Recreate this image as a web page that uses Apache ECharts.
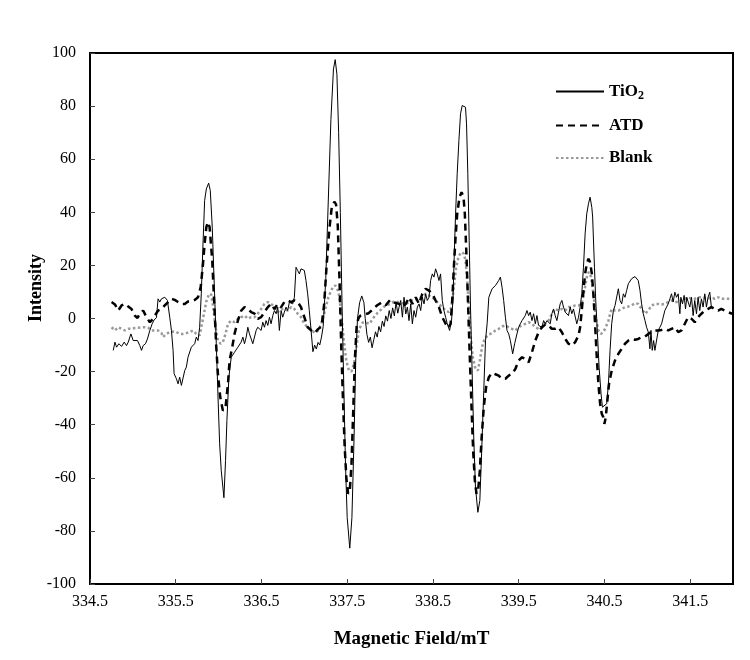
<!DOCTYPE html>
<html>
<head>
<meta charset="utf-8">
<script src="https://cdn.jsdelivr.net/npm/echarts@6/dist/echarts.min.js"></script>
<style>
  html, body { margin: 0; padding: 0; background: #fff; }
  #chart { width: 750px; height: 660px; }
</style>
</head>
<body>
<div id="chart"></div>
<script>
// EPR spectra: magnetic field (mT) and signal intensity for each sample
const tio2Field = [334.771,334.791,334.810,334.837,334.868,334.899,334.926,334.946,334.977,335.004,335.023,335.054,335.081,335.101,335.120,335.147,335.170,335.198,335.225,335.248,335.275,335.294,335.314,335.333,335.372,335.403,335.430,335.450,335.469,335.481,335.508,335.527,335.546,335.566,335.585,335.605,335.624,335.643,335.663,335.682,335.701,335.721,335.740,335.760,335.779,335.798,335.818,335.837,335.857,335.884,335.903,335.926,335.953,335.973,335.992,336.012,336.031,336.062,336.081,336.097,336.120,336.147,336.186,336.225,336.263,336.283,336.302,336.322,336.341,336.360,336.380,336.399,336.419,336.438,336.457,336.477,336.496,336.515,336.535,336.554,336.574,336.593,336.612,336.632,336.651,336.671,336.690,336.709,336.729,336.748,336.767,336.787,336.806,336.826,336.845,336.864,336.884,336.903,336.922,336.942,336.961,336.981,337.000,337.019,337.039,337.058,337.08,337.10,337.12,337.14,337.16,337.18,337.20,337.22,337.25,337.28,337.31,337.34,337.36,337.38,337.40,337.42,337.44,337.46,337.48,337.50,337.53,337.555,337.58,337.60,337.62,337.645,337.67,337.695,337.71,337.73,337.75,337.77,337.79,337.81,337.83,337.85,337.87,337.89,337.91,337.93,337.95,337.97,337.99,338.01,338.03,338.05,338.07,338.09,338.105,338.124,338.144,338.163,338.183,338.202,338.221,338.241,338.260,338.279,338.299,338.318,338.338,338.357,338.376,338.396,338.415,338.434,338.454,338.473,338.493,338.512,338.531,338.551,338.570,338.589,338.609,338.628,338.648,338.667,338.694,338.717,338.733,338.748,338.764,338.783,338.803,338.822,338.841,338.861,338.880,338.892,338.907,338.923,338.938,338.958,338.977,338.996,339.024,339.047,339.066,339.093,339.113,339.132,339.152,339.190,339.229,339.267,339.287,339.306,339.325,339.345,339.364,339.384,339.403,339.430,339.453,339.480,339.500,339.519,339.539,339.558,339.577,339.597,339.616,339.635,339.655,339.674,339.694,339.713,339.732,339.752,339.771,339.791,339.810,339.829,339.849,339.868,339.887,339.907,339.926,339.946,339.965,339.984,340.004,340.023,340.043,340.062,340.081,340.101,340.120,340.139,340.159,340.178,340.198,340.217,340.236,340.256,340.275,340.294,340.314,340.333,340.353,340.363,340.384,340.399,340.419,340.438,340.461,340.477,340.500,340.527,340.547,340.566,340.585,340.605,340.624,340.643,340.663,340.682,340.702,340.721,340.740,340.760,340.779,340.798,340.818,340.837,340.857,340.876,340.895,340.915,340.934,340.953,340.973,340.992,341.012,341.031,341.043,341.058,341.074,341.089,341.109,341.128,341.147,341.167,341.186,341.205,341.225,341.244,341.264,341.283,341.302,341.322,341.341,341.361,341.380,341.392,341.411,341.430,341.446,341.461,341.477,341.496,341.516,341.535,341.554,341.574,341.593,341.612,341.632,341.651,341.671,341.690,341.709,341.729,341.748];
const tio2Int = [-12.0,-8.9,-10.8,-9.5,-10.5,-8.9,-10.2,-8.9,-5.8,-8.3,-7.7,-8.3,-10.2,-12.0,-10.2,-9.5,-7.7,-4.5,-2.0,-0.5,0.3,7.4,6.2,7.4,8.0,6.8,0.5,-4.5,-12.0,-20.8,-22.7,-24.6,-22.1,-25.2,-25.9,-19.6,-18.3,-14.6,-14.6,-10.8,-10.2,-9.5,-7.0,-8.3,-3.3,9.3,28.1,44.4,48.8,51.0,48.2,34.4,9.3,-9.5,-28.4,-47.2,-57.3,-67.5,-53.5,-38.4,-22.1,-14.6,-12.7,-10.8,-8.9,-7.0,-9.5,-7.0,-3.3,-5.8,-5.2,-9.5,-8.9,-4.5,-3.3,-2.6,-4.5,-1.4,-3.3,-0.8,-2.6,0.5,-2.0,1.1,3.0,1.8,4.3,-4.5,3.0,0.5,2.4,4.3,3.0,6.2,6.8,5.5,8.0,19.3,18.1,16.8,18.7,19.3,18.1,14.3,9.3,3.0,-5,-12.5,-10,-11.5,-9,-10,-7,-3,15,45,75,94,97.5,92,70,40,5,-25,-55,-75,-86.5,-75,-45,-15,0,6,8.5,6,0,-6,-9,-7,-11,-8,-5,-7,-3,-5,-1,-3,1,-1,3,0,4,1,6,2,4.3,6.8,0.5,8.0,1.7,4.3,-0.8,5.5,-2.0,3.0,0.5,4.3,5.5,3.0,8.0,5.5,9.3,6.8,8.0,14.3,16.8,15.6,18.7,16.8,14.3,16.8,6.8,3.0,0.5,-2.0,-4.5,-0.8,6.8,23.1,39.4,54.5,67.1,77.1,80.2,80.9,79.6,73.3,54.5,29.4,4.3,-20.8,-45.9,-63.5,-73.0,-68.6,-52.2,-27.1,-8.3,-2.0,8.0,11.2,12.4,14.3,15.6,11.8,6.8,0.5,-4.5,-5.8,-8.3,-13.3,-9.5,-5.8,-3.3,-2.0,-0.8,-0.8,1.1,3.0,1.1,2.4,-0.8,1.8,-2.0,1.1,-2.6,-2.0,-3.3,-0.8,-2.0,-0.8,-0.1,-2.0,1.8,3.6,1.1,-0.8,2.4,5.5,6.8,4.3,2.4,3.0,1.1,4.3,1.8,3.6,3.0,-2.0,0.5,4.3,9.3,19.3,31.9,39.4,43.2,45.7,41.9,38.2,19.3,6.8,-5.8,-18.3,-28.4,-33.4,-34.0,-32.1,-24.6,-12.0,-2.0,3.0,4.9,5.5,11.2,6.8,5.5,9.3,8.0,10.6,13.1,13.7,15.0,14.3,15.8,15.6,14.3,10.6,5.5,1.8,-0.7,-3.3,-5.1,-11.4,-4.5,-12.0,-8.3,-12.0,-12.7,-4.5,-3.3,-2.0,0.5,3.0,4.3,5.5,7.4,9.3,6.2,9.9,8.0,9.3,1.8,8.0,5.5,8.7,3.6,8.0,6.2,4.3,8.0,1.1,6.8,1.8,8.0,3.0,7.4,4.3,9.3,4.3,8.0,9.9,4.3];

const atdField = [334.752,334.791,334.829,334.868,334.907,334.946,334.984,335.023,335.054,335.081,335.120,335.159,335.198,335.236,335.256,335.294,335.333,335.372,335.411,335.450,335.488,335.527,335.566,335.605,335.643,335.682,335.721,335.760,335.791,335.818,335.837,335.857,335.876,335.895,335.926,335.953,335.973,335.992,336.019,336.050,336.081,336.109,336.128,336.159,336.186,336.225,336.264,336.302,336.341,336.380,336.419,336.457,336.496,336.535,336.574,336.612,336.651,336.690,336.729,336.767,336.806,336.845,336.884,336.922,336.961,337.000,337.039,337.08,337.12,337.16,337.20,337.23,337.26,337.29,337.32,337.35,337.37,337.39,337.41,337.43,337.45,337.47,337.49,337.51,337.53,337.55,337.57,337.59,337.61,337.63,337.65,337.70,337.75,337.80,337.85,337.90,337.95,338.00,338.05,338.105,338.144,338.183,338.221,338.260,338.299,338.338,338.376,338.415,338.454,338.493,338.531,338.570,338.609,338.648,338.679,338.706,338.725,338.744,338.764,338.783,338.810,338.834,338.857,338.872,338.892,338.911,338.930,338.950,338.969,338.989,339.008,339.027,339.047,339.066,339.093,339.120,339.152,339.190,339.229,339.267,339.306,339.345,339.384,339.422,339.461,339.500,339.539,339.577,339.616,339.655,339.694,339.732,339.771,339.810,339.849,339.887,339.926,339.965,340.004,340.043,340.081,340.120,340.159,340.198,340.217,340.236,340.256,340.275,340.294,340.314,340.333,340.353,340.372,340.391,340.411,340.430,340.450,340.469,340.488,340.500,340.516,340.531,340.554,340.585,340.624,340.663,340.702,340.740,340.779,340.818,340.857,340.895,340.934,340.973,341.012,341.050,341.089,341.128,341.167,341.205,341.244,341.283,341.322,341.361,341.399,341.438,341.477,341.516,341.554,341.593,341.632,341.671,341.709,341.748,341.787,341.826,341.864,341.903,341.942,341.990];
const atdInt = [6.2,5.3,3.0,4.9,5.5,4.5,3.6,1.1,0.2,1.8,3.0,0.5,-1.4,-0.1,1.1,3.0,3.6,4.9,6.2,7.4,7.0,6.2,5.5,5.5,6.4,6.5,7.0,8.0,11.8,20.6,28.1,34.4,36.3,34.4,21.8,3.0,-10.8,-20.8,-29.6,-34.7,-33.4,-24.6,-15.8,-10.8,-5.8,-0.8,3.0,4.3,3.6,2.4,1.8,-0.1,0.5,2.4,4.3,5.5,3.6,5.5,4.3,6.2,6.8,6.2,6.8,6.2,4.3,0.5,-3.3,-4.5,-5.5,-4,-3,5,20,33,42,44,43,35,15,-10,-30,-48,-60,-66,-65,-55,-35,-15,-3,0,1,1.5,2,3.5,5,6,5,7,6,5.5,4.3,5.5,8.0,5.5,8.0,5.5,9.3,11.2,10.5,9.3,6.8,4.3,0.5,-2.0,-3.5,-2.0,6.8,19.3,30.6,39.4,45.7,47.6,45.7,39.4,23.1,4.3,-14.6,-33.4,-49.7,-61.0,-66.0,-64.8,-57.3,-45.9,-33.4,-25.9,-22.1,-20.5,-21,-21.5,-22.7,-22.7,-21.5,-20.8,-19.0,-15.8,-14.6,-15.2,-16.5,-12.7,-8.3,-5.2,-3.3,-2.3,-2.6,-3.9,-3.9,-3.3,-5.2,-7.7,-9.5,-10.2,-8.9,-6.4,-3.3,3.0,10.5,16.8,20.6,22.5,21.2,17,9,-2.0,-14.6,-24.6,-32.1,-35.9,-37.2,-39.7,-37.2,-32.1,-24.6,-19.6,-15.8,-13.3,-11.4,-9.5,-8.3,-7.7,-8.0,-7.7,-7.0,-6.8,-5.8,-5.1,-4.5,-4.5,-4.3,-3.9,-4.5,-3.9,-3.3,-5.1,-4.5,-2.0,0.5,-0.1,-1.4,0.5,1.8,3.0,3.6,4.3,3.6,3.0,3.6,3.0,2.4,1.8];

const blankField = [334.752,334.791,334.829,334.868,334.907,334.946,334.984,335.023,335.062,335.101,335.140,335.178,335.217,335.256,335.294,335.333,335.353,335.391,335.430,335.469,335.508,335.546,335.585,335.624,335.663,335.701,335.740,335.779,335.806,335.829,335.857,335.890,335.915,335.942,335.965,335.992,336.023,336.050,336.081,336.109,336.147,336.186,336.225,336.264,336.302,336.341,336.380,336.419,336.457,336.496,336.535,336.574,336.612,336.651,336.690,336.729,336.767,336.806,336.845,336.884,336.922,336.961,337.000,337.039,337.08,337.12,337.16,337.20,337.24,337.28,337.32,337.36,337.40,337.43,337.46,337.49,337.52,337.55,337.58,337.61,337.64,337.68,337.72,337.76,337.80,337.85,337.90,337.95,338.00,338.05,338.105,338.183,338.260,338.338,338.415,338.493,338.531,338.570,338.609,338.648,338.686,338.717,338.744,338.771,338.803,338.834,338.861,338.880,338.900,338.919,338.938,338.965,338.996,339.024,339.047,339.074,339.105,339.151,339.190,339.229,339.267,339.306,339.345,339.384,339.422,339.461,339.500,339.539,339.577,339.616,339.655,339.694,339.732,339.771,339.810,339.849,339.887,339.926,339.965,340.004,340.043,340.081,340.120,340.159,340.198,340.236,340.275,340.300,340.320,340.345,340.372,340.399,340.430,340.461,340.488,340.516,340.547,340.566,340.585,340.624,340.663,340.702,340.740,340.779,340.818,340.857,340.895,340.934,340.973,341.012,341.050,341.089,341.128,341.167,341.205,341.244,341.283,341.322,341.361,341.399,341.438,341.477,341.516,341.554,341.593,341.632,341.671,341.709,341.748,341.787,341.826,341.864,341.903,341.942,341.990];
const blankInt = [-3.3,-4.5,-3.3,-3.9,-4.5,-3.9,-3.9,-3.6,-3.5,-3.3,-3.3,-3.5,-4.5,-4.5,-4.5,-5.5,-7.0,-5.8,-5.1,-4.9,-5.1,-5.8,-5.8,-5.5,-5.1,-4.5,-5.8,-6.4,-2.0,1.8,6.5,9.3,9.0,3.0,-3.3,-8.3,-9.5,-8.9,-5.8,-2.0,-0.8,-1.4,-0.1,0.5,1.1,-0.1,0.5,0.5,1.8,3.6,5.5,6.2,5.5,4.3,2.4,3.6,3.6,3.0,4.3,3.6,1.8,0.5,-2.0,-3.3,-4,-5.5,-4.5,-2,3,8,11,12.5,10,2,-8,-16,-19.5,-20,-17,-10,-4,-1.5,-1.5,-2,0,2,3.5,5,5.5,6.5,6.1,5.5,6.8,7.4,9.3,8.0,6.8,5.5,4.3,3.0,2.4,4.3,11.8,19.3,23.7,25.0,24.4,21.8,14.3,4.3,-5.8,-14.6,-19.0,-19.6,-15.8,-10.5,-7.5,-6,-5.5,-4.5,-3.9,-3.0,-2.6,-3.3,-3.9,-4.5,-3.3,-2.6,-2.0,-1.4,-2.0,-3.3,-3.9,-3.3,-2.0,-0.8,1.7,3.6,3.0,3.6,3.0,4.3,4.3,4.9,4.9,5.5,12,16.5,17.5,15.6,9.3,0.5,-4.5,-5.8,-5.1,-3.3,-0.8,1.8,3.6,3.0,3.0,3.6,4.3,4.5,4.9,5.8,5.5,3.6,1.8,3.0,4.9,5.5,5.5,5.3,5.5,6.2,6.8,6.2,6.2,6.8,7.4,8.0,7.4,7.4,8.0,8.0,7.8,7.4,8.0,7.4,8.0,7.4,7.4,7.4,7.4];

// Axis settings
const fieldMin = 334.5, fieldMax = 342, fieldStep = 1;
const intMin = -100, intMax = 100, intStep = 20;

const zip = (xs, ys) => xs.map((x, i) => [x, ys[i]]);
const serif = '"Liberation Serif", "Times New Roman", serif';

const chart = echarts.init(document.getElementById('chart'), null, { renderer: 'canvas' });

chart.setOption({
  animation: false,
  backgroundColor: '#fff',
  grid: {
    left: 90, right: 17, top: 53, bottom: 76,
    show: true, borderColor: '#000', borderWidth: 2, backgroundColor: 'transparent'
  },
  legend: {
    orient: 'vertical',
    left: 550, top: 78,
    itemWidth: 48, itemHeight: 14, itemGap: 15.5,
    data: ['TiO2', 'ATD', 'Blank'],
    itemStyle: { opacity: 0 },
    formatter: name => name === 'TiO2' ? 'TiO{s|2}' : name,
    textStyle: {
      fontFamily: serif, fontWeight: 'bold', fontSize: 17, color: '#000',
      rich: { s: { fontFamily: serif, fontWeight: 'bold', fontSize: 12, color: '#000', padding: [8, 0, 0, 0] } }
    }
  },
  xAxis: {
    type: 'value', min: fieldMin, max: fieldMax, interval: fieldStep,
    name: 'Magnetic Field/mT', nameLocation: 'middle', nameGap: 46,
    nameTextStyle: { fontFamily: serif, fontWeight: 'bold', fontSize: 19, color: '#000' },
    axisLine: { onZero: false, lineStyle: { color: '#000', width: 2 } },
    axisTick: { inside: true, length: 5, lineStyle: { color: '#444' } },
    axisLabel: { fontFamily: serif, fontSize: 16, color: '#000', margin: 10, showMaxLabel: false,
                 formatter: v => v.toFixed(1) },
    splitLine: { show: false }
  },
  yAxis: {
    type: 'value', min: intMin, max: intMax, interval: intStep,
    axisLine: { lineStyle: { color: '#000', width: 2 } },
    axisTick: { inside: true, length: 5, lineStyle: { color: '#444' } },
    axisLabel: { fontFamily: serif, fontSize: 16, color: '#000', margin: 14 },
    splitLine: { show: false }
  },
  graphic: [{
    type: 'text', x: 36, y: 288, rotation: Math.PI / 2,
    style: { text: 'Intensity', font: 'bold 18px ' + serif, fill: '#000', align: 'center', verticalAlign: 'middle' }
  }],
  series: [
    { name: 'TiO2', type: 'line', data: zip(tio2Field, tio2Int), showSymbol: false, symbol: 'none', z: 4,
      lineStyle: { color: '#000', width: 1 }, itemStyle: { color: '#000' } },
    { name: 'ATD', type: 'line', data: zip(atdField, atdInt), showSymbol: false, symbol: 'none', z: 3,
      lineStyle: { color: '#000', width: 2.5, type: [7, 5] }, itemStyle: { color: '#000' } },
    { name: 'Blank', type: 'line', data: zip(blankField, blankInt), showSymbol: false, symbol: 'none', z: 2,
      lineStyle: { color: '#999', width: 2.5, type: [2.5, 2.5] }, itemStyle: { color: '#999' } }
  ]
});
</script>
</body>
</html>
